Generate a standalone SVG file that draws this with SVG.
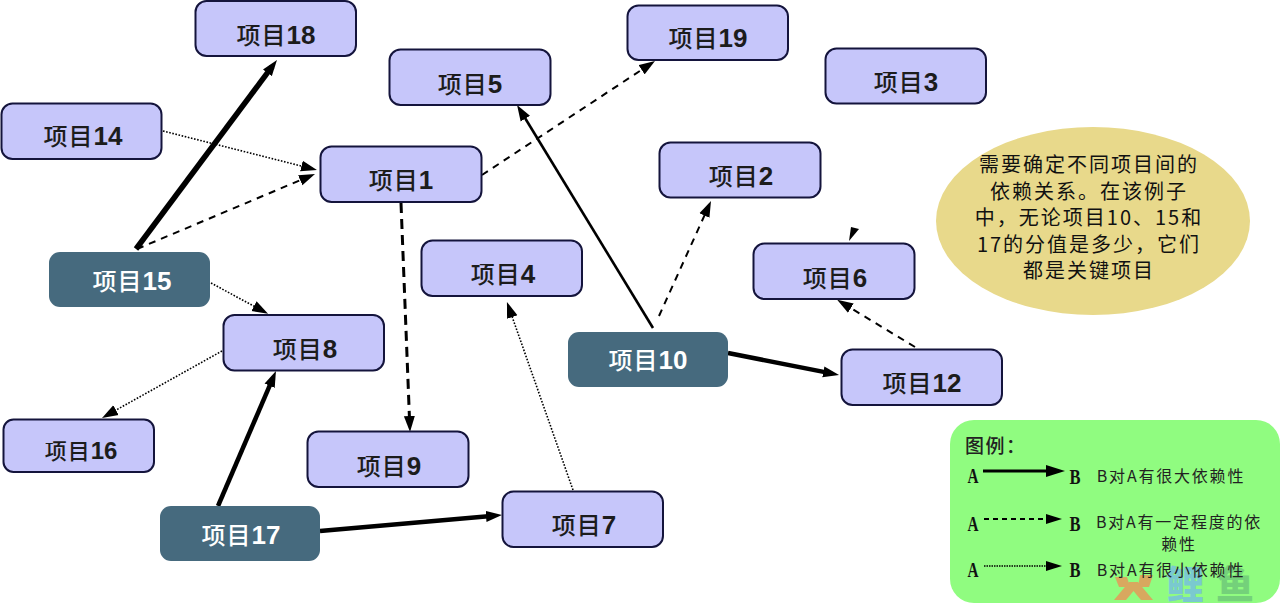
<svg xmlns="http://www.w3.org/2000/svg" width="1280" height="606" viewBox="0 0 1280 606">
<style>
text{font-family:"Liberation Sans","Noto Sans CJK SC",sans-serif;text-anchor:middle}
.n rect{fill:#c6c6fa;stroke:#14143c;stroke-width:2}
.k rect{fill:#466a7e}
.n text,.k text{font-size:26px;font-weight:700;fill:#1c1c1c}
.n .c,.k .c{font-family:"Noto Sans CJK SC",sans-serif;font-weight:500;font-size:24px;letter-spacing:1px}
.k text{fill:#fff}
.l{fill:none;stroke:#000}
.a{stroke-width:5.5}.a2{stroke-width:4.5}.b{stroke-width:2.6}.d{stroke-width:2;stroke-dasharray:7 6}.d2{stroke-width:3;stroke-dasharray:10 6}.o{stroke-width:1.6;stroke-dasharray:1.6 1.6}
.e text{font-family:"Noto Sans CJK SC",sans-serif;font-size:20px;fill:#111;letter-spacing:2px}
.g text{font-family:"Noto Sans CJK SC",sans-serif;font-size:16px;fill:#222;letter-spacing:1.8px}
.g .h{font-size:19px;text-anchor:start;font-weight:500;letter-spacing:1.5px}
.g .s{font-family:"Liberation Serif",serif;font-size:21px;font-weight:700;fill:#111;letter-spacing:0}
.w{font-family:"Noto Sans CJK SC",sans-serif;font-size:38px;font-weight:900}
</style>
<defs>
<marker id="m" viewBox="0 0 16 12" refX="8" refY="6" markerUnits="userSpaceOnUse" markerWidth="16" markerHeight="12" orient="auto"><path d="M0 0.5L16 6L0 11.5z" fill="#000"/></marker>
</defs>
<g id="connectors">
<path class="l a" d="M136 249L272.2 66.4" marker-end="url(#m)"/>
<path class="l o" d="M163 131L309.2 168" marker-end="url(#m)"/>
<path class="l d" d="M137 249L307.6 177.1" marker-end="url(#m)"/>
<path class="l o" d="M211 283L261 310" marker-end="url(#m)"/>
<path class="l d" d="M482 175L648.3 65.4" marker-end="url(#m)"/>
<path class="l d2" d="M401 203L409.7 424" marker-end="url(#m)"/>
<path class="l b" d="M653 328L521.2 111.8" marker-end="url(#m)"/>
<path class="l d" d="M659 316L707.7 208.3" marker-end="url(#m)"/>
<path class="l a2" d="M728 353L831.2 373.4" marker-end="url(#m)"/>
<path class="l d" d="M915 347L844 304" marker-end="url(#m)"/>
<path d="M849 241L851 227L859 229z"/>
<path class="l o" d="M222 351L109 414" marker-end="url(#m)"/>
<path class="l a2" d="M218 506L272.8 378.4" marker-end="url(#m)"/>
<path class="l a2" d="M320 531L494 515.7" marker-end="url(#m)"/>
<path class="l o" d="M573 490L509.6 309.5" marker-end="url(#m)"/>
</g>
<g id="n18" class="n"><rect x="195.5" y="1" width="160.500" height="55" rx="11"/><text x="276" y="44"><tspan class="c">项目</tspan>18</text></g>
<g id="n14" class="n"><rect x="1.500" y="103.500" width="160" height="55.500" rx="11"/><text x="83" y="145"><tspan class="c">项目</tspan>14</text></g>
<g id="n1" class="n"><rect x="320.500" y="146.500" width="161" height="55.500" rx="11"/><text x="401" y="189"><tspan class="c">项目</tspan>1</text></g>
<g id="n5" class="n"><rect x="389.500" y="49.500" width="161" height="55.500" rx="11"/><text x="470" y="93"><tspan class="c">项目</tspan>5</text></g>
<g id="n19" class="n"><rect x="627.500" y="5.500" width="160.500" height="54.500" rx="11"/><text x="708" y="47"><tspan class="c">项目</tspan>19</text></g>
<g id="n3" class="n"><rect x="825.500" y="48.500" width="160.500" height="55" rx="11"/><text x="906" y="91"><tspan class="c">项目</tspan>3</text></g>
<g id="n2" class="n"><rect x="659.500" y="142.500" width="161" height="55" rx="11"/><text x="741" y="185"><tspan class="c">项目</tspan>2</text></g>
<g id="n4" class="n"><rect x="421.500" y="240.500" width="160.500" height="55.500" rx="11"/><text x="503" y="283"><tspan class="c">项目</tspan>4</text></g>
<g id="n6" class="n"><rect x="753.500" y="243.500" width="161" height="55.500" rx="11"/><text x="835" y="287"><tspan class="c">项目</tspan>6</text></g>
<g id="n12" class="n"><rect x="841.500" y="349.500" width="160.500" height="55.500" rx="11"/><text x="922" y="392"><tspan class="c">项目</tspan>12</text></g>
<g id="n8" class="n"><rect x="223.500" y="315" width="160.500" height="55.500" rx="11"/><text x="305" y="358"><tspan class="c">项目</tspan>8</text></g>
<g id="n16" class="n"><rect x="3.500" y="419.500" width="150.500" height="52.500" rx="10"/><text x="81" y="459" style="font-size:24px"><tspan class="c" style="font-size:22px">项目</tspan>16</text></g>
<g id="n9" class="n"><rect x="307.500" y="431.500" width="161" height="55.500" rx="11"/><text x="389" y="475"><tspan class="c">项目</tspan>9</text></g>
<g id="n7" class="n"><rect x="502.500" y="491.500" width="160.500" height="55.500" rx="11"/><text x="584" y="534"><tspan class="c">项目</tspan>7</text></g>
<g id="n10" class="k"><rect x="568" y="332" width="160" height="55" rx="11"/><text x="648" y="369"><tspan class="c">项目</tspan>10</text></g>
<g id="n15" class="k"><rect x="49" y="252" width="161" height="55" rx="11"/><text x="132" y="290"><tspan class="c">项目</tspan>15</text></g>
<g id="n17" class="k"><rect x="160" y="506" width="160" height="55" rx="11"/><text x="241" y="544"><tspan class="c">项目</tspan>17</text></g>
<g id="note" class="e"><ellipse cx="1093" cy="221" rx="157" ry="94" fill="#e8d98b"/>
<text x="1089" y="172">需要确定不同项目间的</text>
<text x="1089" y="199">依赖关系。在该例子</text>
<text x="1089" y="225">中，无论项目10、15和</text>
<text x="1089" y="252">17的分值是多少，它们</text>
<text x="1089" y="278">都是关键项目</text></g>
<rect id="legend-box" x="950" y="420" width="330" height="183" rx="24" fill="#90fc80"/>
<g id="watermark"><g opacity=".85" fill="#e59a5a"><path d="M1115 577H1127L1130 587H1119z"/><path d="M1140 575H1153L1149 587H1138z"/><path d="M1129 582H1138L1153 600H1141L1133.500 591L1126 600H1114z"/></g><text class="w" x="1185" y="598" fill="#78c4d8" opacity=".9">鲤</text><text class="w" x="1235" y="598" fill="#72cd7a" opacity=".9">鱼</text></g>
<g id="legend" class="g">
<text class="h" x="965" y="453">图例：</text>
<text class="s" x="973" y="483" textLength="11" lengthAdjust="spacingAndGlyphs">A</text><text class="s" x="1075" y="484" textLength="11" lengthAdjust="spacingAndGlyphs">B</text>
<text class="s" x="973" y="531" textLength="11" lengthAdjust="spacingAndGlyphs">A</text><text class="s" x="1075" y="531" textLength="11" lengthAdjust="spacingAndGlyphs">B</text>
<text class="s" x="973" y="577" textLength="11" lengthAdjust="spacingAndGlyphs">A</text><text class="s" x="1075" y="577" textLength="11" lengthAdjust="spacingAndGlyphs">B</text>
<path class="l" stroke-width="3" d="M983 471H1050"/><path d="M1046 465L1065 471L1046 477z"/>
<path class="l" stroke-width="2" stroke-dasharray="5 4" d="M984 519H1048"/><path d="M1046 514L1062 519L1046 524z"/>
<path class="l" stroke-width="1.500" stroke-dasharray="1.500 1" d="M984 566H1048"/><path d="M1046 561L1062 566L1046 571z"/>
<text x="1171" y="482">B对A有很大依赖性</text>
<text x="1179" y="528">B对A有一定程度的依</text>
<text x="1179" y="550">赖性</text>
<text x="1171" y="576">B对A有很小依赖性</text></g>
</svg>
